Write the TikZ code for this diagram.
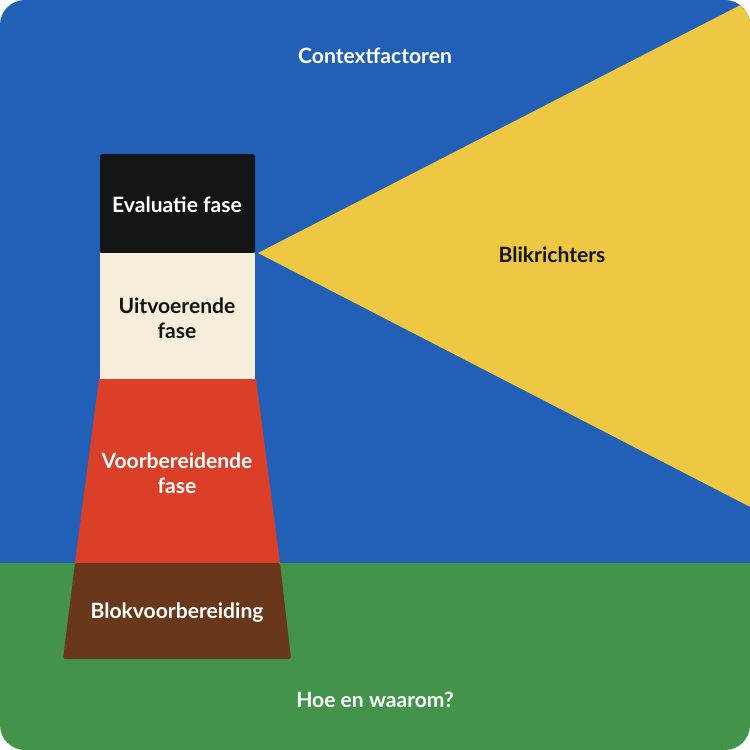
\documentclass[tikz,border=0pt]{standalone}
\usepackage{fontspec}
\setmainfont{Lato}
\usepackage{xcolor}
\usepackage{tikz}
\usetikzlibrary{positioning}

\definecolor{skyblue}{HTML}{2260B8}
\definecolor{grass}{HTML}{43944A}
\definecolor{beam}{HTML}{EEC843}
\definecolor{lampblack}{HTML}{141517}
\definecolor{cream}{HTML}{F6EEDA}
\definecolor{towerred}{HTML}{DB3F28}
\definecolor{soil}{HTML}{69371A}

\tikzset{
  label/.style={font=\bfseries\fontsize{12}{14}\selectfont,align=center,text=white},
  darklabel/.style={label,text=lampblack}
}

\begin{document}
\begin{tikzpicture}[x=0.02cm,y=-0.02cm]
	\useasboundingbox (0,0) rectangle (750,750);
	\begin{scope}
	\clip[rounded corners=0.5cm] (0,0) rectangle (750,750);
	\fill[skyblue] (0,0) rectangle (750,563);
	\fill[grass] (0,563) rectangle (750,750);
	% lichtbundel
	\fill[beam] (258,253) -- (760,-5) -- (760,512) -- cycle;
	\end{scope}
	% toren
	\fill[lampblack,rounded corners=1.5pt] (100,253) -- (100,154) -- (255,154) -- (255,253) -- cycle;
	\fill[cream] (100,253) rectangle (255,379);
	\fill[towerred] (99,379) -- (256,379) -- (280,563) -- (75,563) -- cycle;
	\fill[soil,rounded corners=1pt] (75,563) -- (280,563) -- (291,659) -- (63,659) -- cycle;
	\node[label] (context) at (375,56) {Contextfactoren};
	\node[label] (evaluatie) at (177,205) {Evaluatie fase};
	\node[darklabel] (uitvoerend) at (177,318) {Uitvoerende\\fase};
	\node[label] (voorbereid) at (177,473) {Voorbereidende\\fase};
	\node[label] (blok) at (177,613) {Blokvoorbereiding};
	\node[darklabel] (blik) at (552,255) {Blikrichters};
	\node[label] (hoe) at (375,700) {Hoe en waarom?};
\end{tikzpicture}
\end{document}
